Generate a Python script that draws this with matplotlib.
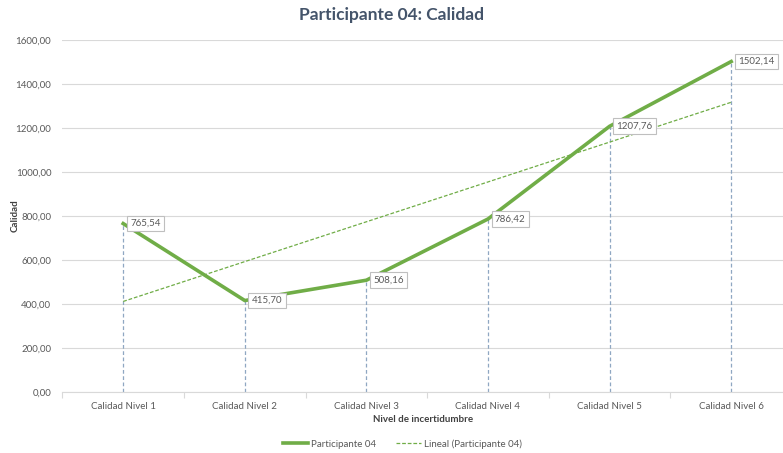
import matplotlib.pyplot as plt
import numpy as np

categorias = ['Calidad Nivel 1', 'Calidad Nivel 2', 'Calidad Nivel 3',
              'Calidad Nivel 4', 'Calidad Nivel 5', 'Calidad Nivel 6']
valores = [765.54, 415.70, 508.16, 786.42, 1207.76, 1502.14]
yticks = [0, 200, 400, 600, 800, 1000, 1200, 1400, 1600]

plt.rcParams['font.family'] = ['Lato', 'DejaVu Sans']

verde = '#70AD47'
texto = '#595959'

fig = plt.figure(figsize=(7.83, 4.53), dpi=100)
ax = fig.add_axes([62.4 / 783, 1 - 392 / 453, 1 - 62.4 / 783, (392 - 40) / 453])

x = np.arange(len(valores))
ax.vlines(x, 0, valores, colors='#8FA7C2', linestyles=(0, (3, 2)), linewidth=0.9, zorder=2)

ax.plot(x, valores, color=verde, linewidth=2.6, label='Participante 04', zorder=4)

# linea de tendencia (regresion lineal, como Excel)
m, b = np.polyfit(x + 1, valores, 1)
ax.plot(x, m * (x + 1) + b, color=verde, linewidth=0.9, linestyle=(0, (3, 1.5)),
        label='Lineal (Participante 04)', zorder=3)

for xi, v in zip(x, valores):
    ax.annotate(f'{v:.2f}'.replace('.', ','), (xi, v), xytext=(5, 0), textcoords='offset points',
                ha='left', va='center', fontsize=7, color=texto, zorder=5,
                bbox=dict(boxstyle='square,pad=0.35', fc='white', ec='#BFBFBF', lw=0.8))

ax.set_yticks(yticks)
ax.set_yticklabels([f'{t:.2f}'.replace('.', ',') for t in yticks])
ax.set_xticks(x)
ax.set_xticklabels(categorias)
ax.set_xticks(np.arange(-0.5, 5, 1), minor=True)
ax.set_ylim(0, 1600)
ax.set_xlim(-0.5, -0.5 + (783 - 62.4) / 121.6)
ax.tick_params(axis='x', which='major', length=0, labelsize=7, labelcolor=texto, pad=7)
ax.tick_params(axis='x', which='minor', length=4, color='#D9D9D9', width=0.8)
ax.tick_params(axis='y', length=0, labelsize=7, labelcolor=texto, pad=8)

ax.grid(axis='y', color='#D9D9D9', linewidth=0.8)
ax.set_axisbelow(True)
for s in ['top', 'right', 'left']:
    ax.spines[s].set_visible(False)
ax.spines['bottom'].set_color('#D9D9D9')
ax.spines['bottom'].set_linewidth(0.8)

ax.set_xlabel('Nivel de incertidumbre', fontsize=7, fontweight='bold', color='#404040', labelpad=3)
ax.set_ylabel('Calidad', fontsize=7, fontweight='bold', color='#404040')
ax.yaxis.set_label_coords((20 - 62.4) / (783 - 62.4), 0.5)

fig.suptitle('Participante 04: Calidad', x=0.5, y=0.985, fontsize=12.5, fontweight='bold', color='#44546A')

fig.legend(loc='center', bbox_to_anchor=(0.514, 1 - 444 / 453), ncol=2, frameon=False,
           fontsize=7, labelcolor=texto, handlelength=2.6, columnspacing=2, handletextpad=0.3)

fig.savefig('out.png', dpi=100)
